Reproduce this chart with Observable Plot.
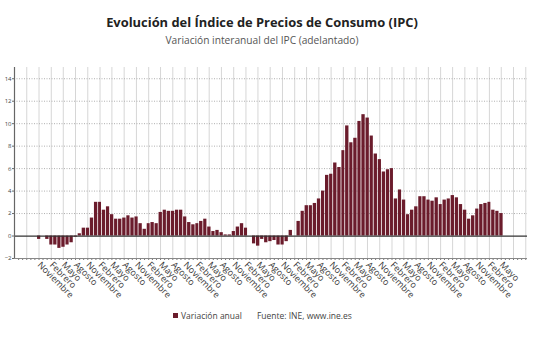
<!DOCTYPE html>
<html><head><meta charset="utf-8">
<script src="https://cdn.jsdelivr.net/npm/d3@7"></script>
<script src="https://cdn.jsdelivr.net/npm/@observablehq/plot@0.6"></script>
<style>
body{margin:0;background:#fff;font-family:"Open Sans",sans-serif;width:540px;height:340px;overflow:hidden;position:relative}
#title{position:absolute;top:13px;left:0;width:524px;text-align:center;font-weight:700;font-size:12.9px;color:#222}
#sub{position:absolute;top:33px;left:0;width:524px;text-align:center;font-size:10.2px;color:#555}
#chart{position:absolute;top:56px;left:0}
#legend{position:absolute;top:310px;left:173px;font-size:8.5px;color:#444;display:flex;align-items:center}
#legend .sw{width:5px;height:5px;background:#6b1c2c;margin-right:3px}
</style></head>
<body>
<div id="title">Evolución del Índice de Precios de Consumo (IPC)</div>
<div id="sub">Variación interanual del IPC (adelantado)</div>
<div id="chart"></div>
<div id="legend"><div class="sw"></div><span>Variación anual</span><span style="margin-left:15px">Fuente: INE, www.ine.es</span></div>
<script>
// first month of the series: November 2015
const startYear = 2015, startMonth = 10;
const values = [
  -0.3, 0.0,
  -0.3, -0.8, -0.8, -1.1, -1.0, -0.8, -0.6, -0.1, 0.2, 0.7, 0.7, 1.6,
  3.0, 3.0, 2.3, 2.6, 1.9, 1.5, 1.5, 1.6, 1.8, 1.6, 1.7, 1.1,
  0.6, 1.1, 1.2, 1.1, 2.1, 2.3, 2.2, 2.2, 2.3, 2.3, 1.7, 1.2,
  1.0, 1.1, 1.3, 1.5, 0.8, 0.4, 0.5, 0.3, 0.1, 0.1, 0.4, 0.8,
  1.1, 0.7, 0.0, -0.7, -0.9, -0.3, -0.6, -0.5, -0.4, -0.8, -0.8, -0.5,
  0.5, 0.0, 1.3, 2.2, 2.7, 2.7, 2.9, 3.3, 4.0, 5.4, 5.5, 6.5,
  6.1, 7.6, 9.8, 8.3, 8.7, 10.2, 10.8, 10.5, 8.9, 7.3, 6.8, 5.7,
  5.9, 6.0, 3.3, 4.1, 3.2, 1.9, 2.3, 2.6, 3.5, 3.5, 3.2, 3.1,
  3.4, 2.8, 3.2, 3.3, 3.6, 3.4, 2.8, 2.3, 1.5, 1.8, 2.4, 2.8,
  2.9, 3.0, 2.3, 2.2, 2.0
];
const monthNames = {10: "Noviembre", 1: "Febrero", 4: "Mayo", 7: "Agosto"};
const yTicks = [-2, 0, 2, 4, 6, 8, 10, 12, 14];

const data = values.map((v, i) => ({
  start: new Date(Date.UTC(startYear, startMonth + i, 1)),
  end: new Date(Date.UTC(startYear, startMonth + i + 1, 1)),
  mid: new Date(Date.UTC(startYear, startMonth + i, 15)),
  value: v
}));
const xDomain = [new Date(Date.UTC(2015, 4, 15)), new Date(Date.UTC(2025, 10, 28))];
const labelTicks = data.filter((d, i) => i % 3 === 0).map(d => d.mid);
const gridTicks = d3.utcMonth.range(new Date(Date.UTC(2015, 7, 1)), xDomain[1], 3).map(d => new Date(Date.UTC(d.getUTCFullYear(), d.getUTCMonth(), 15)));
const monthTicks = d3.utcMonth.range(new Date(Date.UTC(2015, 5, 1)), xDomain[1]).map(d => new Date(Date.UTC(d.getUTCFullYear(), d.getUTCMonth(), 15)));

const chart = Plot.plot({
  width: 540, height: 252,
  marginTop: 11, marginBottom: 50, marginLeft: 14, marginRight: 13,
  style: {fontFamily: "Open Sans, sans-serif", background: "transparent"},
  x: {type: "utc", domain: xDomain},
  y: {domain: [-2, 15]},
  marks: [
    Plot.gridX(gridTicks, {stroke: "#d6d6d6", strokeOpacity: 1}),
    Plot.gridY(yTicks.filter(t => t !== 0 && t !== -2), {stroke: "#b0b0b0", strokeOpacity: 1, strokeDasharray: "1,1.5"}),
    Plot.axisY(yTicks, {tickSize: 2, tickPadding: 1, fontSize: 6, fill: "#444", stroke: "#666", label: null}),
    Plot.axisX(monthTicks, {tickSize: 2, tickFormat: () => "", stroke: "#777", label: null}),
    Plot.axisX(labelTicks, {tickSize: 0, tickPadding: 5, tickRotate: 45, fontSize: 9, fill: "#3a3a3a",
      tickFormat: d => monthNames[d.getUTCMonth()], label: null}),
    Plot.rectY(data, {x1: "start", x2: "end", y: "value", fill: "#6b1c2c", insetLeft: 0.4, insetRight: 0.4}),
    Plot.ruleY([0], {stroke: "#333", strokeWidth: 1.2}),
    Plot.ruleY([-2], {stroke: "#888"}),
    Plot.ruleX([xDomain[0]], {stroke: "#666", strokeWidth: 1.2})
  ]
});
document.getElementById("chart").append(chart);
</script>
</body></html>
